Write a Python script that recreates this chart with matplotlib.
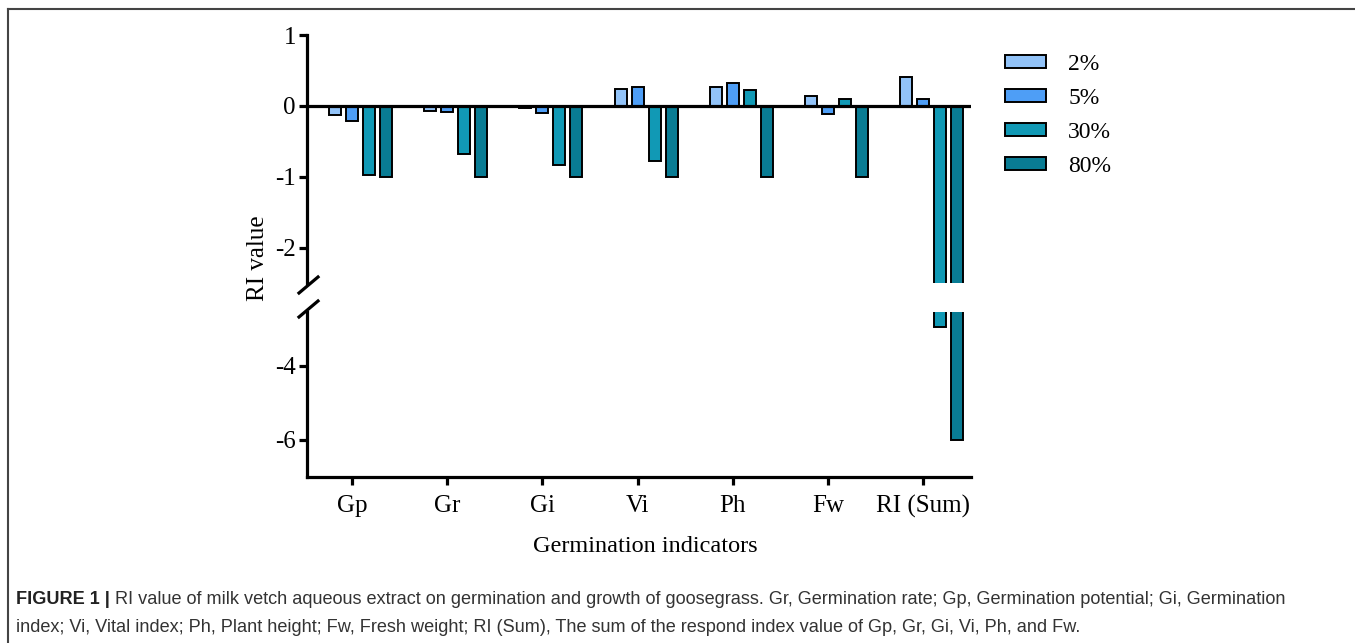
import numpy as np
import matplotlib
matplotlib.use('Agg')
import matplotlib.pyplot as plt
from matplotlib.lines import Line2D

indicators = ['Gp', 'Gr', 'Gi', 'Vi', 'Ph', 'Fw', 'RI (Sum)']
conc = ['2%', '5%', '30%', '80%']
ri_2 = [-0.13, -0.07, -0.03, 0.24, 0.26, 0.14, 0.41]
ri_5 = [-0.21, -0.085, -0.10, 0.26, 0.32, -0.12, 0.10]
ri_30 = [-0.98, -0.68, -0.83, -0.78, 0.22, 0.09, -2.95]
ri_80 = [-1.0, -1.0, -1.0, -1.0, -1.0, -1.0, -6.0]
colors = ['#92C3F8', '#4E9EF6', '#1199B5', '#097C94']

plt.rcParams['font.family'] = ['Liberation Serif', 'DejaVu Serif']

W, H = 1355, 643
fig = plt.figure(figsize=(W / 100, H / 100), dpi=100)

def fx(px):
    return px / W

def fy(py):
    return 1 - py / H

ax_top = fig.add_axes([fx(307), fy(283), fx(971 - 307), fy(35) - fy(283)])
ax_bot = fig.add_axes([fx(307), fy(477), fx(971 - 307), fy(312) - fy(477)])

x = np.arange(len(indicators))
offsets = [-0.178, 0.0, 0.178, 0.357]
width = 0.126
series = [ri_2, ri_5, ri_30, ri_80]

for ax in (ax_top, ax_bot):
    for vals, off, c, lab in zip(series, offsets, colors, conc):
        ax.bar(x + off, vals, width, color=c, edgecolor='black', linewidth=1.4, label=lab)
    ax.set_xlim(-0.472, 6.5)
    for s in ['top', 'right']:
        ax.spines[s].set_visible(False)
    ax.spines['left'].set_linewidth(2.3)
    ax.spines['bottom'].set_linewidth(2.3)
    ax.tick_params(axis='both', width=2.3, length=6, labelsize=18, direction='out', pad=2)

ax_top.set_ylim(-2.5, 1)
ax_top.set_yticks([1, 0, -1, -2])
ax_top.set_yticklabels(['1', '0', '-1', '-2'])
ax_top.spines['bottom'].set_visible(False)
ax_top.set_xticks([])
ax_top.axhline(0, color='black', linewidth=2.3, zorder=5)

ax_bot.set_ylim(-7, -2.55)
ax_bot.set_yticks([-4, -6])
ax_bot.set_yticklabels(['-4', '-6'])
ax_bot.set_xticks(x)
ax_bot.set_xticklabels(indicators)
ax_bot.tick_params(axis='x', pad=7)
ax_bot.set_xlabel('Germination indicators', fontsize=17.5)
ax_bot.xaxis.set_label_coords(0.509, -0.355)

fig.text(fx(258), fy(258), 'RI value', rotation=90, ha='center', va='center', fontsize=18)

# break marks on the y axis
for y0 in (285, 309):
    fig.add_artist(Line2D([fx(299), fx(318)], [fy(y0 + 8), fy(y0 - 8)],
                          color='black', linewidth=2.3))

handles, labels = ax_top.get_legend_handles_labels()
fig.legend(handles, labels, loc='upper left', bbox_to_anchor=(fx(984), fy(33)),
           frameon=False, fontsize=17, handlelength=1.74, handleheight=0.47,
           labelspacing=0.54, handletextpad=0.93)

# frame of the figure page
fig.add_artist(Line2D([fx(8), 1], [fy(9), fy(9)], color='#444444', linewidth=1.5))
fig.add_artist(Line2D([fx(8), fx(8)], [fy(9), 0], color='#444444', linewidth=1.5))

# caption
cap_font = 'Liberation Sans'
t1 = fig.text(fx(16), fy(600), 'FIGURE 1 |', fontsize=13.1, fontweight='bold',
              family=cap_font, va='center', color='#222222')
fig.canvas.draw()
bb = t1.get_window_extent()
fig.text(bb.x1 / W + fx(5), fy(600),
         'RI value of milk vetch aqueous extract on germination and growth of goosegrass. '
         'Gr, Germination rate; Gp, Germination potential; Gi, Germination',
         fontsize=13.1, family=cap_font, va='center', color='#333333')
fig.text(fx(16), fy(628),
         'index; Vi, Vital index; Ph, Plant height; Fw, Fresh weight; RI (Sum), The sum of the '
         'respond index value of Gp, Gr, Gi, Vi, Ph, and Fw.',
         fontsize=13.1, family=cap_font, va='center', color='#333333')

fig.savefig('out.png', dpi=100)
